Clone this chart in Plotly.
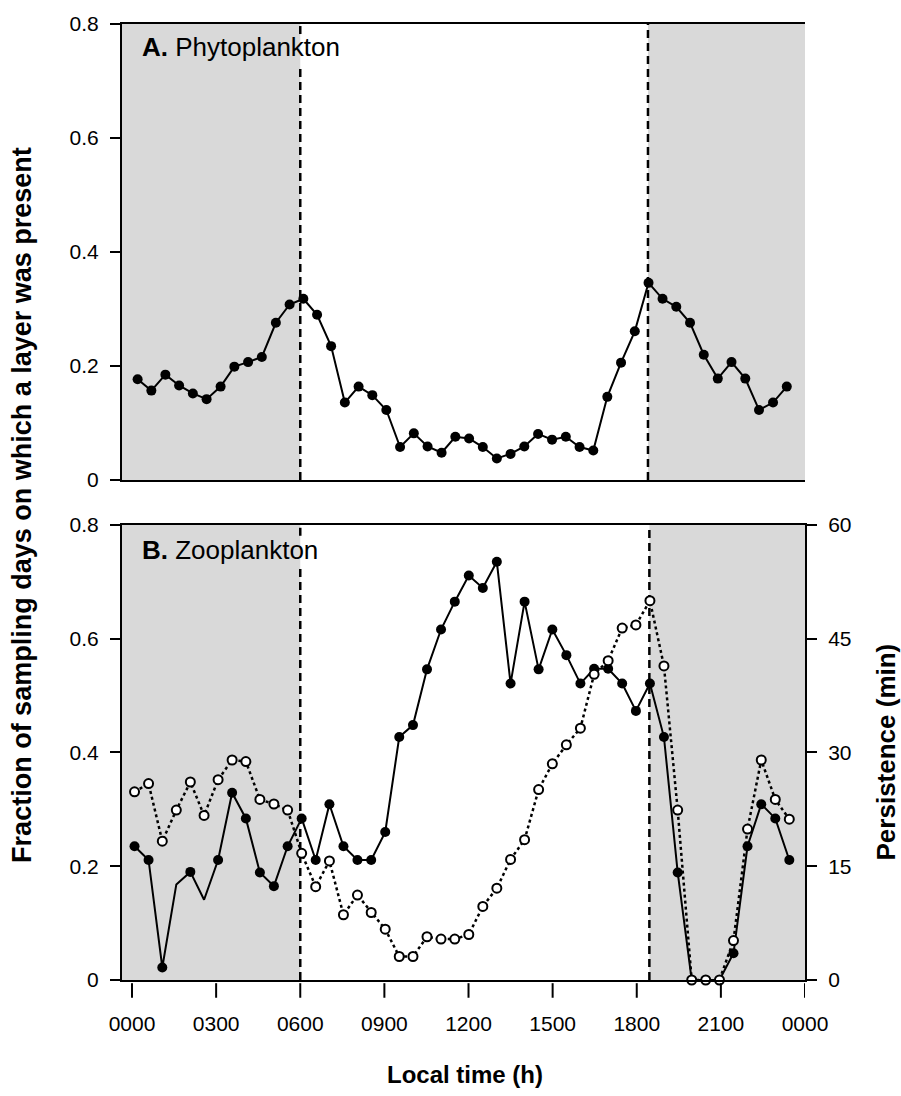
import plotly.graph_objects as go

# ---- data -------------------------------------------------------------
# Panel A: phytoplankton layers, local time (h) of each half-hour bin
phyto_time = [0.20, 0.69, 1.19, 1.68, 2.17, 2.66, 3.16, 3.65, 4.14, 4.63,
              5.13, 5.62, 6.11, 6.60, 7.10, 7.59, 8.08, 8.57, 9.07, 9.56,
              10.05, 10.54, 11.04, 11.53, 12.02, 12.51, 13.01, 13.50, 13.99, 14.48,
              14.98, 15.47, 15.96, 16.45, 16.95, 17.44, 17.93, 18.42, 18.92, 19.41,
              19.90, 20.39, 20.89, 21.38, 21.87, 22.36, 22.86, 23.35]
phyto_frac = [0.177, 0.157, 0.185, 0.166, 0.152, 0.142, 0.164, 0.199, 0.207, 0.216,
              0.276, 0.308, 0.318, 0.290, 0.235, 0.136, 0.164, 0.149, 0.123, 0.058,
              0.082, 0.059, 0.048, 0.076, 0.073, 0.058, 0.038, 0.046, 0.059, 0.081,
              0.071, 0.076, 0.058, 0.052, 0.146, 0.206, 0.261, 0.346, 0.318, 0.304,
              0.276, 0.220, 0.178, 0.207, 0.178, 0.123, 0.136, 0.164]

# Panel B: zooplankton layers
zoo_time = [0.09, 0.59, 1.08, 1.58, 2.08, 2.57, 3.07, 3.57, 4.06, 4.56,
            5.06, 5.55, 6.05, 6.55, 7.04, 7.54, 8.04, 8.53, 9.03, 9.53,
            10.02, 10.52, 11.02, 11.51, 12.01, 12.51, 13.01, 13.50, 14.00, 14.50,
            14.99, 15.49, 15.99, 16.48, 16.98, 17.48, 17.97, 18.47, 18.97, 19.46,
            19.96, 20.46, 20.95, 21.45, 21.95, 22.44, 22.94, 23.44]
zoo_frac = [0.235, 0.211, 0.022, 0.168, 0.190, 0.141, 0.211, 0.329, 0.284, 0.189,
            0.165, 0.235, 0.284, 0.211, 0.309, 0.235, 0.211, 0.211, 0.260, 0.427,
            0.448, 0.546, 0.616, 0.665, 0.711, 0.689, 0.735, 0.521, 0.665, 0.546,
            0.616, 0.571, 0.521, 0.547, 0.547, 0.521, 0.473, 0.521, 0.427, 0.189,
            0.0, 0.0, 0.0, 0.047, 0.235, 0.309, 0.284, 0.211]
# bins plotted with a symbol on the fraction curve (others are line vertices only)
zoo_frac_symbol = [1, 1, 1, 0, 1, 0, 1, 1, 1, 1,
                   1, 1, 1, 1, 1, 1, 1, 1, 1, 1,
                   1, 1, 1, 1, 1, 1, 1, 1, 1, 1,
                   1, 1, 1, 1, 1, 1, 1, 1, 1, 1,
                   0, 0, 0, 1, 1, 1, 1, 1]
zoo_persist = [24.8, 25.9, 18.3, 22.4, 26.1, 21.7, 26.4, 29.0, 28.8, 23.8,
               23.2, 22.4, 16.7, 12.3, 15.7, 8.6, 11.2, 8.9, 6.7, 3.1,
               3.1, 5.7, 5.4, 5.4, 6.0, 9.7, 12.1, 15.9, 18.5, 25.1,
               28.5, 31.0, 33.2, 40.3, 42.1, 46.4, 46.8, 50.0, 41.4, 22.4,
               0.0, 0.0, 0.0, 5.2, 19.9, 29.0, 23.8, 21.2]

tick_hours = [0, 3, 6, 9, 12, 15, 18, 21, 24]
tick_text = ["0000", "0300", "0600", "0900", "1200", "1500", "1800", "2100", "0000"]

sunrise = 6.0
sunset_a = 18.4
sunset_b = 18.45

# ---- styling ----------------------------------------------------------
FONT = "Arial, Liberation Sans, sans-serif"
X_RANGE = [-0.357, 24.0]
GRAY = "#d9d9d9"
AX_W = 2
DASH = dict(color="black", width=2.5, dash="8px,5px")

fig = go.Figure()

# Panel A
fig.add_trace(go.Scatter(
    x=phyto_time, y=phyto_frac, xaxis="x", yaxis="y", mode="lines+markers",
    line=dict(color="black", width=2),
    marker=dict(color="black", size=10, symbol="circle", opacity=1),
    cliponaxis=False, showlegend=False))

# Panel B: fraction (left axis)
fig.add_trace(go.Scatter(
    x=zoo_time, y=zoo_frac, xaxis="x2", yaxis="y2", mode="lines+markers",
    line=dict(color="black", width=2),
    marker=dict(color="black", size=[10 if s else 0 for s in zoo_frac_symbol],
                symbol="circle", opacity=1, line=dict(width=0)),
    cliponaxis=False, showlegend=False))

# Panel B: persistence (right axis)
fig.add_trace(go.Scatter(
    x=zoo_time, y=zoo_persist, xaxis="x2", yaxis="y3", mode="lines+markers",
    line=dict(color="black", width=2.5, dash="dot"),
    marker=dict(color="white", size=9, symbol="circle", opacity=1,
                line=dict(color="black", width=2)),
    cliponaxis=False, showlegend=False))

shapes = []
# night shading and sunrise / sunset lines; the sunrise line breaks
# around the panel label
panels = (("x", "y", sunset_a, (0.902, 0.978)),
          ("x2", "y2", sunset_b, (0.908, 0.976)))
for xr, yr, sunset, (gap0, gap1) in panels:
    shapes.append(dict(type="rect", xref=xr, yref=yr + " domain",
                       x0=X_RANGE[0], x1=sunrise, y0=0, y1=1,
                       fillcolor=GRAY, line=dict(width=0), layer="below"))
    shapes.append(dict(type="rect", xref=xr, yref=yr + " domain",
                       x0=sunset, x1=X_RANGE[1], y0=0, y1=1,
                       fillcolor=GRAY, line=dict(width=0), layer="below"))
    for y0, y1 in ((0, gap0), (gap1, 1)):
        shapes.append(dict(type="line", xref=xr, yref=yr + " domain",
                           x0=sunrise, x1=sunrise, y0=y0, y1=y1,
                           line=DASH, layer="below"))
    shapes.append(dict(type="line", xref=xr, yref=yr + " domain",
                       x0=sunset, x1=sunset, y0=0, y1=1,
                       line=DASH, layer="below"))

# offset tick marks under panel B's time axis
for h in tick_hours:
    shapes.append(dict(type="line", xref="x2", yref="y2 domain",
                       x0=h, x1=h, y0=-0.007, y1=-0.039,
                       line=dict(color="black", width=2)))

annotations = [
    dict(text="<b>A.</b> Phytoplankton", xref="paper", yref="paper",
         x=0.0264, y=0.9755, xanchor="left", yanchor="middle", showarrow=False,
         font=dict(family=FONT, size=26, color="black")),
    dict(text="<b>B.</b> Zooplankton", xref="paper", yref="paper",
         x=0.0264, y=0.4500, xanchor="left", yanchor="middle", showarrow=False,
         font=dict(family=FONT, size=26, color="black")),
    dict(text="<b>Fraction of sampling days on which a layer was present</b>",
         xref="paper", yref="paper", x=-0.1464, y=0.497, textangle=-90,
         xanchor="center", yanchor="middle", showarrow=False,
         font=dict(family=FONT, size=27, color="black")),
    dict(text="<b>Persistence (min)</b>", xref="paper", yref="paper",
         x=1.1186, y=0.238, textangle=-90, xanchor="center", yanchor="middle",
         showarrow=False, font=dict(family=FONT, size=26, color="black")),
    dict(text="<b>Local time (h)</b>", xref="paper", yref="paper",
         x=0.502, y=-0.099, xanchor="center", yanchor="middle",
         showarrow=False, font=dict(family=FONT, size=24, color="black")),
]

tickfont = dict(family=FONT, size=21, color="black")
yax_common = dict(range=[0, 0.8], dtick=0.2, tick0=0, showgrid=False,
                  zeroline=False, showline=True, linecolor="black", linewidth=AX_W,
                  ticks="outside", ticklen=10, tickwidth=2, tickcolor="black",
                  tickfont=tickfont, ticklabelstandoff=7)

fig.update_layout(
    width=901, height=1096,
    margin=dict(l=122, r=96, t=18, b=116),
    paper_bgcolor="white", plot_bgcolor="white",
    font=dict(family=FONT, color="black"),
    xaxis=dict(domain=[0, 1], range=X_RANGE, anchor="y", showgrid=False,
               zeroline=False, showline=True, linecolor="black", linewidth=AX_W,
               mirror=True, ticks="", showticklabels=False,
               tickvals=tick_hours),
    yaxis=dict(domain=[0.5229, 1], anchor="x", **yax_common),
    xaxis2=dict(domain=[0, 1], range=X_RANGE, anchor="y2", showgrid=False,
                zeroline=False, showline=True, linecolor="black", linewidth=AX_W,
                mirror=True, ticks="", tickvals=tick_hours, ticktext=tick_text,
                tickfont=tickfont, ticklabelstandoff=24),
    yaxis2=dict(domain=[0, 0.4761], anchor="x2", **yax_common),
    yaxis3=dict(range=[0, 60], dtick=15, tick0=0, overlaying="y2", side="right",
                anchor="x2", showgrid=False, zeroline=False, showline=True,
                linecolor="black", linewidth=AX_W, ticks="outside", ticklen=10,
                tickwidth=2, tickcolor="black", tickfont=tickfont,
                ticklabelstandoff=7),
    shapes=shapes,
    annotations=annotations,
)

fig.write_html("out.html")
